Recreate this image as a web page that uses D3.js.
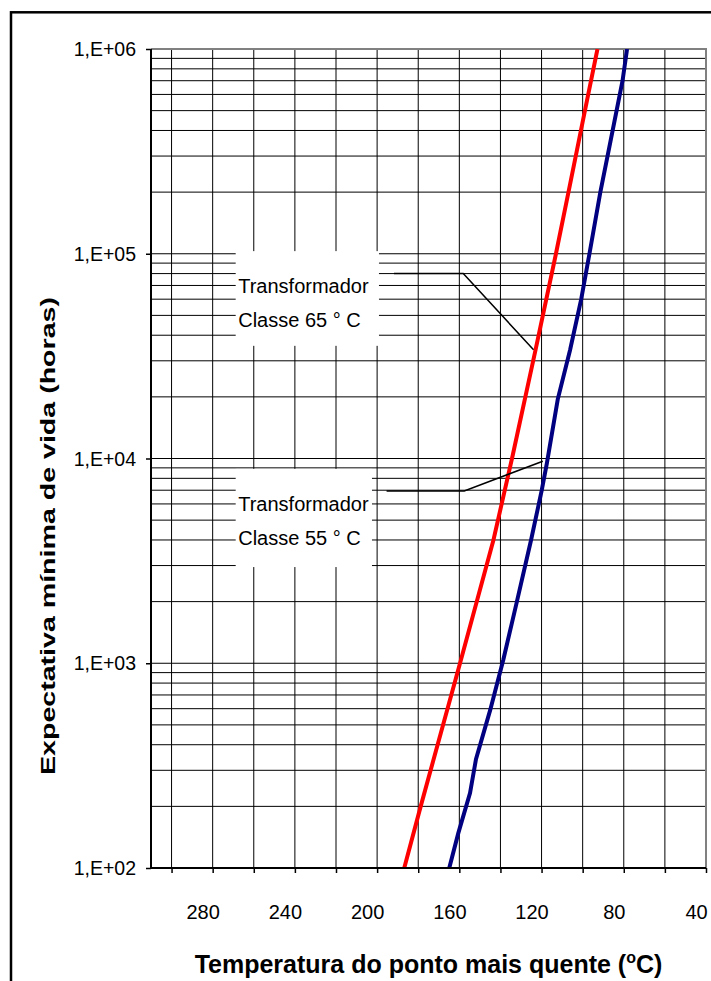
<!DOCTYPE html>
<html><head><meta charset="utf-8">
<script src="https://cdn.jsdelivr.net/npm/d3@7"></script>
<style>body{margin:0;background:#fff}svg{display:block}</style>
</head><body>
<script>
// Data: [temperature °C, hours]
const class65 = [[92.8,1e6],[98.9,5e5],[106.9,2e5],[113.0,1e5],[122.9,3.4e4],[134.0,1.04e4],[143.4,4.0e3],[159.2,1.04e3],[178.8,200],[186.8,100]];
const class55 = [[78.4,1e6],[80.6,7.0e5],[87.9,3.0e5],[91.4,2.0e5],[96.7,1.0e5],[100.7,6.0e4],[106.1,3.4e4],[112.1,1.95e4],[117.4,9.5e3],[119.9,7.0e3],[125.1,4.0e3],[132.0,2.0e3],[138.6,1.04e3],[145.0,590],[151.9,340],[154.8,232],[160.5,148],[164.9,100]];
const xTickValues = [300,280,260,240,220,200,180,160,140,120,100,80,60,40];
const xTickLabels = [280,240,200,160,120,80,40];
const yTickValues = [1e2,1e3,1e4,1e5,1e6];
const yTickLabels = ["1,E+02","1,E+03","1,E+04","1,E+05","1,E+06"];
const xTitle = "Temperatura do ponto mais quente (";
const yTitle = "Expectativa mínima de vida (horas)";
const notes = [
  {lines:["Transformador","Classe 65 ° C"], box:[268.8,1.03e5,199.1,3.55e4], leader:[[191.8,8e4],[158.1,8e4],[123.9,3.4e4]]},
  {lines:["Transformador","Classe 55 ° C"], box:[268.8,8.9e3,202.5,2.95e3], leader:[[195.4,6.94e3],[157.6,6.94e3],[119.4,9.7e3]]}
];

const W=711,H=981, L=151, R=706, T=49, B=868;
const svg=d3.select("body").append("svg").attr("width",W).attr("height",H);
svg.append("rect").attr("width",W).attr("height",H).attr("fill","#fff");
svg.append("rect").attr("x",11).attr("y",12.3).attr("width",760).attr("height",1050)
   .attr("fill","none").attr("stroke","#000").attr("stroke-width",2.5);

const x=d3.scaleLinear().domain([310,40]).range([L,R]);
const y=d3.scaleLog().domain([100,1e6]).range([B,T]);

// gridlines
const g=svg.append("g");
const minor=[];
for(let e=2;e<6;e++){for(let m=2;m<=9;m++)minor.push(m*Math.pow(10,e));}
g.selectAll(".hm").data(minor.concat(yTickValues.slice(1,4))).join("line")
  .attr("x1",L).attr("x2",R).attr("y1",d=>y(d)).attr("y2",d=>y(d))
  .attr("stroke","#000").attr("stroke-width",1);
g.selectAll(".vg").data(xTickValues.filter(v=>v!==40)).join("line")
  .attr("x1",d=>x(d)).attr("x2",d=>x(d)).attr("y1",T).attr("y2",B)
  .attr("stroke","#000").attr("stroke-width",1);

// plot border (top/right gray)
svg.append("path").attr("d",`M${L},${T}H${R}V${B}`).attr("fill","none")
  .attr("stroke","#808080").attr("stroke-width",2);

// curves
svg.append("clipPath").attr("id","clip").append("rect").attr("x",L).attr("y",T).attr("width",R-L).attr("height",B-T);
const line=d3.line().x(d=>x(d[0])).y(d=>y(d[1]));
svg.append("path").datum(class65).attr("d",line).attr("fill","none").attr("stroke","#ff0000")
  .attr("stroke-width",4).attr("clip-path","url(#clip)");
svg.append("path").datum(class55).attr("d",line).attr("fill","none").attr("stroke","#000080")
  .attr("stroke-width",4).attr("clip-path","url(#clip)");

// axes
const yAxis=d3.axisLeft(y).tickValues(yTickValues).tickSize(5).tickFormat((d,i)=>yTickLabels[i]);
const ya=svg.append("g").attr("transform",`translate(${L},0)`).call(yAxis);
ya.select(".domain").attr("stroke","#000").attr("stroke-width",2).attr("d",`M0,${T}V${B}`);
ya.selectAll(".tick line").attr("stroke","#000").attr("stroke-width",1.5);
ya.selectAll(".tick text").attr("x",-15).attr("dy",null).attr("y",6.5)
  .attr("font-family","Liberation Sans, Arial, sans-serif").attr("font-size",19.5).attr("fill","#000");

const xAxis=d3.axisBottom(x).tickValues(xTickValues).tickSize(5).tickFormat(d=>xTickLabels.includes(d)?String(d):"");
const xa=svg.append("g").attr("transform",`translate(0,${B})`).call(xAxis);
xa.select(".domain").attr("stroke","#000").attr("stroke-width",2).attr("d",`M${L},0H${R}`);
xa.selectAll(".tick line").attr("stroke","#000").attr("stroke-width",1.5);
xa.selectAll(".tick text").attr("x",-10).attr("dy",null).attr("y",51)
  .attr("font-family","Liberation Sans, Arial, sans-serif").attr("font-size",20).attr("fill","#000");

// titles
const xt=svg.append("text").attr("x",(L+R)/2).attr("y",973).attr("text-anchor","middle")
  .attr("font-family","Liberation Sans, Arial, sans-serif").attr("font-weight","bold").attr("font-size",25);
xt.append("tspan").text(xTitle);
xt.append("tspan").attr("font-size",16).attr("dy",-10).text("o");
xt.append("tspan").attr("dy",10).text("C)");

svg.append("text").attr("transform",`translate(55,536) rotate(-90)`).attr("text-anchor","middle")
  .attr("font-family","Liberation Sans, Arial, sans-serif").attr("font-weight","bold").attr("font-size",20.5)
  .attr("textLength",478).attr("lengthAdjust","spacingAndGlyphs")
  .text(yTitle);

// annotations
notes.forEach(n=>{
  const [x0,y0,x1,y1]=n.box;
  svg.append("rect").attr("x",x(x0)).attr("y",y(y0)).attr("width",x(x1)-x(x0)).attr("height",y(y1)-y(y0)).attr("fill","#fff");
  n.lines.forEach((t,i)=>{
    svg.append("text").attr("x",x(x0)+2.5).attr("y",y(y0)+42+i*34)
      .attr("font-family","Liberation Sans, Arial, sans-serif").attr("font-size",20).text(t);
  });
  svg.append("path").attr("d",d3.line().x(d=>x(d[0])).y(d=>y(d[1]))(n.leader))
    .attr("fill","none").attr("stroke","#000").attr("stroke-width",1.5);
});
</script>
</body></html>
